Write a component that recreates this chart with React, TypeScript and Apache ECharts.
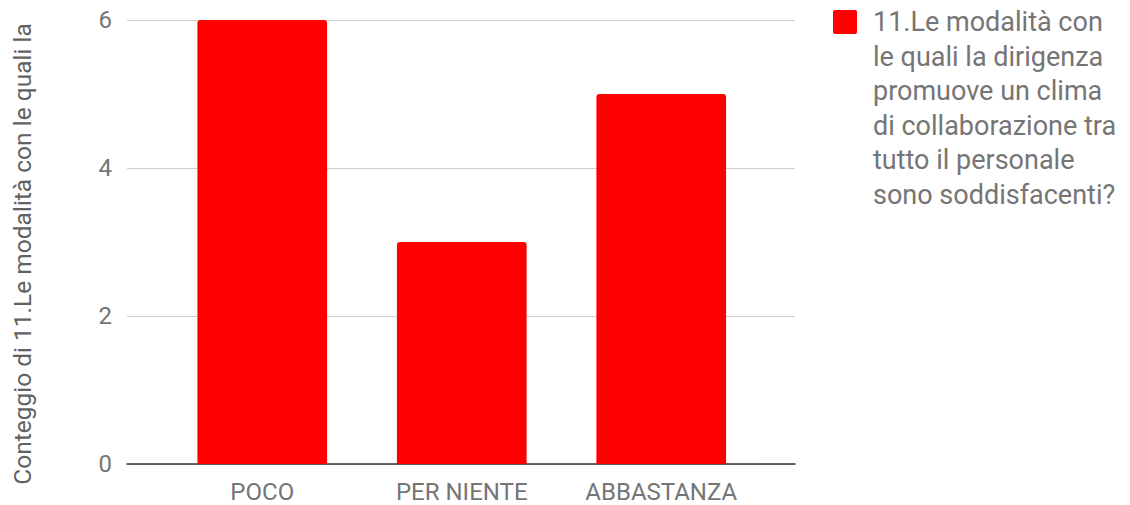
import React, { useEffect, useRef } from "react";
import * as echarts from "echarts";

const categories = ["POCO", "PER NIENTE", "ABBASTANZA"];
const values = [6, 3, 5];
const seriesName = "11.Le modalità con le quali la dirigenza promuove un clima di collaborazione tra tutto il personale sono soddisfacenti?";
const legendLines = [
  "11.Le modalità con",
  "le quali la dirigenza",
  "promuove un clima",
  "di collaborazione tra",
  "tutto il personale",
  "sono soddisfacenti?",
];
const yAxisTitle = "Conteggio di 11.Le modalità con le quali la";

export default function App() {
  const ref = useRef<HTMLDivElement>(null);
  useEffect(() => {
    if (!ref.current) return;
    const chart = echarts.init(ref.current, null, { renderer: "svg" });
    chart.setOption({
      animation: false,
      textStyle: { fontFamily: "Roboto" },
      grid: [
        { left: 127, right: 335, top: 20, bottom: 41, containLabel: false },
        { left: 162.5, right: 369, top: 20, bottom: 41, containLabel: false },
      ],
      xAxis: [
        {
          type: "value",
          gridIndex: 0,
          min: 0,
          max: 1,
          axisTick: { show: false },
          axisLabel: { show: false },
          splitLine: { show: false },
          axisLine: { show: true, onZero: false, lineStyle: { color: "#333", width: 1.5 } },
        },
        {
          type: "category",
          gridIndex: 1,
          data: categories,
          axisTick: { show: false },
          axisLine: { show: false },
          axisLabel: { color: "#757575", fontSize: 24, margin: 16, fontFamily: "Roboto" },
        },
      ],
      yAxis: [
        {
          type: "value",
          gridIndex: 0,
          min: 0,
          max: 6,
          interval: 2,
          axisLine: { show: false },
          axisTick: { show: false },
          splitLine: { lineStyle: { color: "#d0d0d0", width: 1 } },
          axisLabel: { color: "#757575", fontSize: 24, margin: 15, fontFamily: "Roboto" },
        },
        {
          type: "value",
          gridIndex: 1,
          min: 0,
          max: 6,
          interval: 2,
          show: false,
          splitLine: { show: false },
        },
      ],
      series: [
        {
          name: seriesName,
          type: "bar",
          xAxisIndex: 1,
          yAxisIndex: 1,
          data: values,
          barCategoryGap: "35%",
          itemStyle: { color: "#ff0000", borderRadius: [3, 3, 0, 0] },
        },
      ],
      graphic: [
        {
          type: "text",
          x: 22,
          y: 254,
          rotation: Math.PI / 2,
          style: {
            text: yAxisTitle,
            fill: "#616161",
            font: "24.5px Roboto",
            align: "center",
            verticalAlign: "middle",
          },
        },
        {
          type: "rect",
          x: 833,
          y: 10,
          shape: { width: 24, height: 24, r: 2 },
          style: { fill: "#ff0000" },
        },
        {
          type: "text",
          x: 873,
          y: 22 - 17.3,
          style: {
            text: legendLines.join("\n"),
            fill: "#757575",
            font: "27px Roboto",
            lineHeight: 34.6,
            align: "left",
            verticalAlign: "top",
          },
        },
      ],
    });
    return () => chart.dispose();
  }, []);
  return (
    <div
      ref={ref}
      style={{ position: "fixed", left: 0, top: 0, width: 1130, height: 505, background: "#fff" }}
    />
  );
}
